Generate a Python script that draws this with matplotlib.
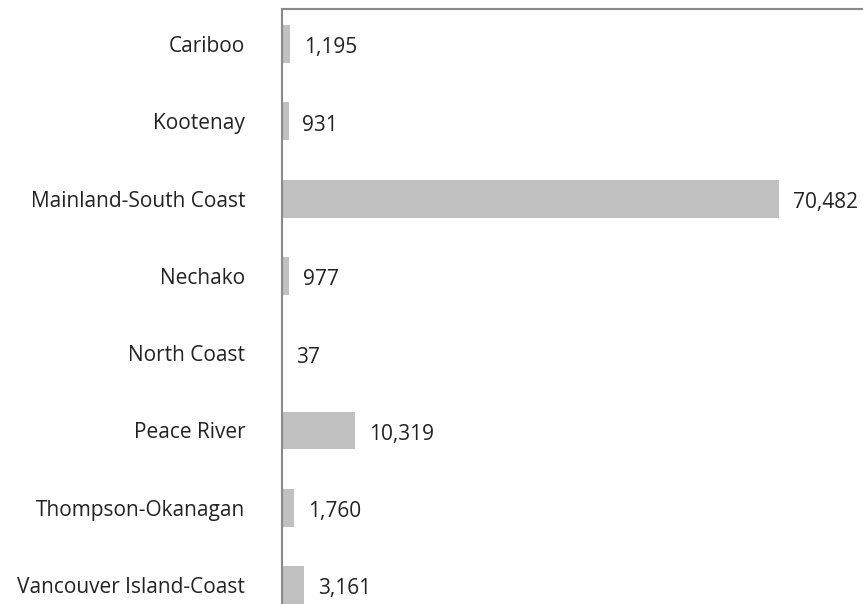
import matplotlib
matplotlib.use("Agg")
import matplotlib.pyplot as plt

plt.rcParams['font.family'] = ['Open Sans', 'DejaVu Sans']

regions = ["Cariboo", "Kootenay", "Mainland-South Coast", "Nechako",
           "North Coast", "Peace River", "Thompson-Okanagan",
           "Vancouver Island-Coast"]
counts = [1195, 931, 70482, 977, 37, 10319, 1760, 3161]

W, H = 863, 604
fig = plt.figure(figsize=(W / 100, H / 100), dpi=100)

# axes: left spine at x=282px, top at y=8.5px, runs off right and bottom
left_px, top_px = 282, 8.5
x_max = 90000
px_per_unit = 497 / 70482
ax_w = x_max * px_per_unit
ax = fig.add_axes([left_px / W, 0, ax_w / W, 1 - top_px / H])

pos = list(range(len(regions)))
ax.barh(pos, counts, height=0.49, color="#c0c0c0", zorder=2)

ax.set_xlim(0, x_max)
ax.set_ylim(7.245, -0.459)
ax.set_yticks(pos)
ax.set_yticklabels(regions, fontsize=15, color="#222222")
ax.tick_params(axis="y", length=0, pad=26.5)
ax.set_xticks([])

for sp in ["right", "bottom"]:
    ax.spines[sp].set_visible(False)
for sp in ["left", "top"]:
    ax.spines[sp].set_color("#8a8a8a")
    ax.spines[sp].set_linewidth(1.5)

for p, v in zip(pos, counts):
    ax.annotate(f"{v:,}", (v, p), xytext=(10, -1), textcoords="offset points",
                va="center_baseline", ha="left", fontsize=15, color="#222222")

fig.savefig("out.png", dpi=100)
